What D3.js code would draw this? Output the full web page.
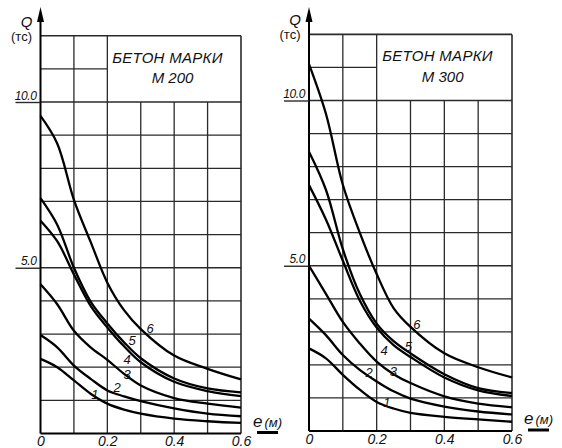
<!DOCTYPE html>
<html>
<head>
<meta charset="utf-8">
<script src="https://cdn.jsdelivr.net/npm/d3@7"></script>
<style>
  body { margin: 0; background: #fff; }
  svg { display: block; }
  text { font-family: "Liberation Sans", Arial, sans-serif; font-style: italic; fill: #111; }
</style>
</head>
<body>
<svg id="chart" width="562" height="448"></svg>
<script>
const eVals = [0, 0.05, 0.1, 0.15, 0.2, 0.25, 0.3, 0.4, 0.5, 0.6];

// Q (tc) for curves 1..6, concrete M200
const m200 = [
  [2.25, 2.0, 1.6, 1.2, 0.9, 0.72, 0.6, 0.45, 0.37, 0.32],
  [2.97, 2.6, 2.05, 1.65, 1.3, 1.12, 0.98, 0.76, 0.6, 0.52],
  [4.5, 3.9, 3.1, 2.6, 2.22, 1.8, 1.45, 1.07, 0.9, 0.78],
  [6.42, 5.8, 4.8, 3.85, 3.2, 2.63, 2.15, 1.56, 1.28, 1.13],
  [7.1, 6.3, 5.0, 3.98, 3.32, 2.75, 2.27, 1.66, 1.36, 1.24],
  [9.58, 8.75, 7.05, 5.78, 4.55, 3.72, 3.15, 2.35, 1.95, 1.63]
];

// Q (tc) for curves 1..6, concrete M300
const m300 = [
  [2.5, 2.2, 1.7, 1.25, 0.88, 0.68, 0.55, 0.43, 0.35, 0.28],
  [3.4, 2.9, 2.3, 1.85, 1.5, 1.2, 0.98, 0.74, 0.59, 0.5],
  [5.0, 4.15, 3.3, 2.65, 2.1, 1.72, 1.45, 1.05, 0.83, 0.72],
  [7.44, 6.4, 5.15, 3.95, 3.13, 2.6, 2.24, 1.62, 1.23, 1.06],
  [8.45, 7.3, 5.5, 4.15, 3.25, 2.72, 2.35, 1.72, 1.3, 1.15],
  [11.1, 9.6, 7.45, 6.0, 4.75, 3.72, 3.15, 2.35, 1.93, 1.62]
];

const curveNames = ["1", "2", "3", "4", "5", "6"];
// where each curve number is written, [e, Q]
const m200LabelAt = [[0.163, 1.19], [0.229, 1.4], [0.259, 1.8], [0.259, 2.24], [0.274, 2.82], [0.328, 3.18]];
const m300LabelAt = [[0.23, 0.87], [0.178, 1.78], [0.249, 1.82], [0.222, 2.45], [0.294, 2.58], [0.319, 3.24]];

const eTicks = [0, 0.2, 0.4, 0.6];
const eTickLabels = ["0", "0.2", "0.4", "0.6"];
const qTicks = [5, 10];
const qTickLabels = ["5.0", "10.0"];
const titleLine1 = "БЕТОН МАРКИ";
const gradeNames = ["М 200", "М 300"];

const svg = d3.select("#chart");

const panels = [
  {curves: m200, labels: m200LabelAt, grade: gradeNames[0], xr: [40.5, 241], yr: [433.5, 35.7]},
  {curves: m300, labels: m300LabelAt, grade: gradeNames[1], xr: [309, 512], yr: [431, 34.4]}
];

panels.forEach(drawPanel);

function drawPanel(p) {
  const x = d3.scaleLinear([0, 0.6], p.xr);
  const y = d3.scaleLinear([0, 12], p.yr);
  const g = svg.append("g");

  const thin = (x1, y1, x2, y2) => g.append("line")
    .attr("x1", x1).attr("y1", y1).attr("x2", x2).attr("y2", y2)
    .attr("stroke", "#2a2a2a").attr("stroke-width", 1.3);

  // horizontal grid
  d3.range(1, 10).forEach(q => thin(x(0), y(q), x(0.6), y(q)));
  thin(x(0), y(10), x(0.6), y(10)).attr("stroke-width", 1.6);
  thin(x(0), y(11), x(0.2), y(11));
  thin(x(0), y(12), x(0.6), y(12)).attr("stroke-width", 1.6);
  // vertical grid
  [0.1, 0.2].forEach(e => thin(x(e), y(0), x(e), y(12)));
  [0.3, 0.4, 0.5].forEach(e => thin(x(e), y(0), x(e), y(10)));
  thin(x(0.6), y(0), x(0.6), y(12)).attr("stroke-width", 1.6);

  // Q axis with arrow
  g.append("line").attr("x1", x(0)).attr("x2", x(0))
    .attr("y1", y(0)).attr("y2", 14)
    .attr("stroke", "#000").attr("stroke-width", 2);
  g.append("path")
    .attr("d", `M${x(0)},7 L${x(0) - 3.5},22 L${x(0) + 3.5},22 Z`)
    .attr("fill", "#000");
  g.append("text").attr("x", x(0) - 14).attr("y", y(12) - 9)
    .attr("text-anchor", "middle").attr("font-size", 15).text("Q");
  g.append("text").attr("x", x(0) - 19).attr("y", y(12) + 5)
    .attr("text-anchor", "middle").attr("font-size", 13)
    .style("font-style", "normal").text("(тс)");

  // e axis
  g.append("line").attr("x1", x(0)).attr("x2", x(0.6))
    .attr("y1", y(0)).attr("y2", y(0))
    .attr("stroke", "#000").attr("stroke-width", 2);

  // Q tick labels with leader lines to the left
  const yAxis = g.append("g")
    .attr("transform", `translate(${x(0)},0)`)
    .call(d3.axisLeft(y).tickValues(qTicks).tickSize(25)
      .tickFormat((d, i) => qTickLabels[i]));
  yAxis.select(".domain").remove();
  yAxis.selectAll(".tick line").attr("stroke", "#2a2a2a").attr("stroke-width", 1.4);
  yAxis.selectAll(".tick text")
    .attr("x", -4).attr("dy", -3).attr("text-anchor", "end")
    .attr("font-family", null).attr("font-size", 12).attr("letter-spacing", -0.4);

  // e tick labels
  const xAxis = g.append("g")
    .attr("transform", `translate(0,${y(0)})`)
    .call(d3.axisBottom(x).tickValues(eTicks).tickSize(0).tickPadding(3)
      .tickFormat((d, i) => eTickLabels[i]));
  xAxis.select(".domain").remove();
  xAxis.selectAll(".tick text").attr("font-family", null).attr("font-size", 14);

  // e (м) label and underline
  const el = g.append("text").attr("x", x(0.6) + 12).attr("y", y(0) - 7);
  el.append("tspan").attr("font-size", 17).text("e");
  el.append("tspan").attr("font-size", 13).attr("dx", 2).text("(м)");
  g.append("line").attr("x1", x(0.6) + 16).attr("x2", x(0.6) + 37)
    .attr("y1", y(0) - 1).attr("y2", y(0) - 1)
    .attr("stroke", "#000").attr("stroke-width", 3);

  // title box text
  g.append("text").attr("x", x(0.38)).attr("y", y(11) - 6)
    .attr("text-anchor", "middle").attr("font-size", 15).attr("letter-spacing", 0.3)
    .text(titleLine1);
  g.append("text").attr("x", x(0.395)).attr("y", y(10.5) - 2)
    .attr("text-anchor", "middle").attr("font-size", 15)
    .text(p.grade);

  // curves
  const line = d3.line()
    .x((d, i) => x(eVals[i]))
    .y(d => y(d))
    .curve(d3.curveCatmullRom.alpha(0.5));
  g.selectAll("path.curve").data(p.curves).join("path")
    .attr("class", "curve")
    .attr("d", line)
    .attr("fill", "none").attr("stroke", "#000").attr("stroke-width", 2.3);

  g.selectAll("text.num").data(p.labels).join("text")
    .attr("class", "num")
    .attr("x", d => x(d[0])).attr("y", d => y(d[1]) + 5)
    .attr("text-anchor", "middle").attr("font-size", 13)
    .text((d, i) => curveNames[i]);
}
</script>
</body>
</html>
